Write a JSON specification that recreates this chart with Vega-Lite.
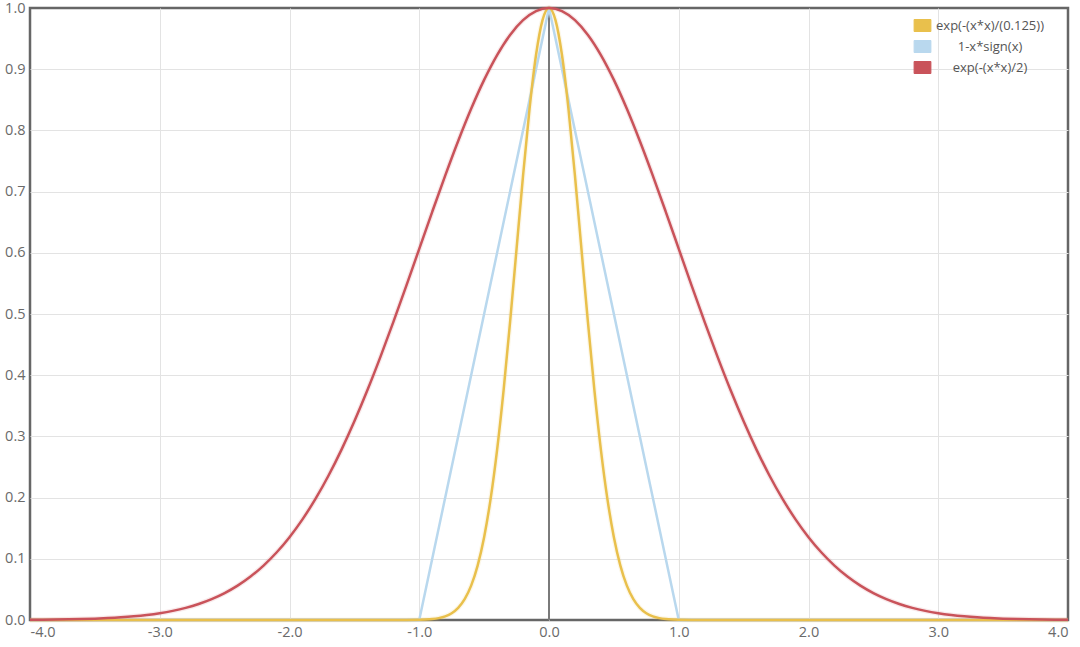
{
  "$schema": "https://vega.github.io/schema/vega-lite/v6.json",
  "width": 1038,
  "height": 612,
  "autosize": {"type": "none"},
  "padding": {"left": 30, "top": 8, "right": 12, "bottom": 27},
  "background": "white",
  "config": {
    "view": {"stroke": "#666666", "strokeWidth": 2.5},
    "font": "Open Sans",
    "axis": {
      "grid": true, "gridWidth": 1,
      "domain": false, "ticks": false,
      "labelColor": "#6a6a6a", "labelFontSize": 14.5, "labelFont": "Open Sans",
      "title": null
    }
  },
  "datasets": {
    "curves": [
      {"s": "exp(-(x*x)/(0.125))", "x": -4.0, "y": 0},
      {"s": "exp(-(x*x)/(0.125))", "x": -1.2, "y": 0.00001},
      {"s": "exp(-(x*x)/(0.125))", "x": -1.1, "y": 0.00006},
      {"s": "exp(-(x*x)/(0.125))", "x": -1.0, "y": 0.00034},
      {"s": "exp(-(x*x)/(0.125))", "x": -0.95, "y": 0.00073},
      {"s": "exp(-(x*x)/(0.125))", "x": -0.9, "y": 0.00153},
      {"s": "exp(-(x*x)/(0.125))", "x": -0.85, "y": 0.00309},
      {"s": "exp(-(x*x)/(0.125))", "x": -0.8, "y": 0.00598},
      {"s": "exp(-(x*x)/(0.125))", "x": -0.75, "y": 0.01111},
      {"s": "exp(-(x*x)/(0.125))", "x": -0.7, "y": 0.01984},
      {"s": "exp(-(x*x)/(0.125))", "x": -0.65, "y": 0.03405},
      {"s": "exp(-(x*x)/(0.125))", "x": -0.6, "y": 0.05613},
      {"s": "exp(-(x*x)/(0.125))", "x": -0.55, "y": 0.08892},
      {"s": "exp(-(x*x)/(0.125))", "x": -0.5, "y": 0.13534},
      {"s": "exp(-(x*x)/(0.125))", "x": -0.45, "y": 0.1979},
      {"s": "exp(-(x*x)/(0.125))", "x": -0.4, "y": 0.27804},
      {"s": "exp(-(x*x)/(0.125))", "x": -0.35, "y": 0.37531},
      {"s": "exp(-(x*x)/(0.125))", "x": -0.3, "y": 0.48675},
      {"s": "exp(-(x*x)/(0.125))", "x": -0.25, "y": 0.60653},
      {"s": "exp(-(x*x)/(0.125))", "x": -0.2, "y": 0.72615},
      {"s": "exp(-(x*x)/(0.125))", "x": -0.15, "y": 0.83527},
      {"s": "exp(-(x*x)/(0.125))", "x": -0.1, "y": 0.92312},
      {"s": "exp(-(x*x)/(0.125))", "x": -0.05, "y": 0.9802},
      {"s": "exp(-(x*x)/(0.125))", "x": 0.0, "y": 1.0},
      {"s": "exp(-(x*x)/(0.125))", "x": 0.05, "y": 0.9802},
      {"s": "exp(-(x*x)/(0.125))", "x": 0.1, "y": 0.92312},
      {"s": "exp(-(x*x)/(0.125))", "x": 0.15, "y": 0.83527},
      {"s": "exp(-(x*x)/(0.125))", "x": 0.2, "y": 0.72615},
      {"s": "exp(-(x*x)/(0.125))", "x": 0.25, "y": 0.60653},
      {"s": "exp(-(x*x)/(0.125))", "x": 0.3, "y": 0.48675},
      {"s": "exp(-(x*x)/(0.125))", "x": 0.35, "y": 0.37531},
      {"s": "exp(-(x*x)/(0.125))", "x": 0.4, "y": 0.27804},
      {"s": "exp(-(x*x)/(0.125))", "x": 0.45, "y": 0.1979},
      {"s": "exp(-(x*x)/(0.125))", "x": 0.5, "y": 0.13534},
      {"s": "exp(-(x*x)/(0.125))", "x": 0.55, "y": 0.08892},
      {"s": "exp(-(x*x)/(0.125))", "x": 0.6, "y": 0.05613},
      {"s": "exp(-(x*x)/(0.125))", "x": 0.65, "y": 0.03405},
      {"s": "exp(-(x*x)/(0.125))", "x": 0.7, "y": 0.01984},
      {"s": "exp(-(x*x)/(0.125))", "x": 0.75, "y": 0.01111},
      {"s": "exp(-(x*x)/(0.125))", "x": 0.8, "y": 0.00598},
      {"s": "exp(-(x*x)/(0.125))", "x": 0.85, "y": 0.00309},
      {"s": "exp(-(x*x)/(0.125))", "x": 0.9, "y": 0.00153},
      {"s": "exp(-(x*x)/(0.125))", "x": 0.95, "y": 0.00073},
      {"s": "exp(-(x*x)/(0.125))", "x": 1.0, "y": 0.00034},
      {"s": "exp(-(x*x)/(0.125))", "x": 1.1, "y": 0.00006},
      {"s": "exp(-(x*x)/(0.125))", "x": 1.2, "y": 0.00001},
      {"s": "exp(-(x*x)/(0.125))", "x": 4.0, "y": 0},
      {"s": "1-x*sign(x)", "x": -4.0, "y": 0},
      {"s": "1-x*sign(x)", "x": -1.0, "y": 0},
      {"s": "1-x*sign(x)", "x": 0.0, "y": 1},
      {"s": "1-x*sign(x)", "x": 1.0, "y": 0},
      {"s": "1-x*sign(x)", "x": 4.0, "y": 0},
      {"s": "exp(-(x*x)/2)", "x": -4.0, "y": 0.00034},
      {"s": "exp(-(x*x)/2)", "x": -3.9, "y": 0.0005},
      {"s": "exp(-(x*x)/2)", "x": -3.8, "y": 0.00073},
      {"s": "exp(-(x*x)/2)", "x": -3.7, "y": 0.00106},
      {"s": "exp(-(x*x)/2)", "x": -3.6, "y": 0.00153},
      {"s": "exp(-(x*x)/2)", "x": -3.5, "y": 0.00219},
      {"s": "exp(-(x*x)/2)", "x": -3.4, "y": 0.00309},
      {"s": "exp(-(x*x)/2)", "x": -3.3, "y": 0.00432},
      {"s": "exp(-(x*x)/2)", "x": -3.2, "y": 0.00598},
      {"s": "exp(-(x*x)/2)", "x": -3.1, "y": 0.00819},
      {"s": "exp(-(x*x)/2)", "x": -3.0, "y": 0.01111},
      {"s": "exp(-(x*x)/2)", "x": -2.9, "y": 0.01492},
      {"s": "exp(-(x*x)/2)", "x": -2.8, "y": 0.01984},
      {"s": "exp(-(x*x)/2)", "x": -2.7, "y": 0.02612},
      {"s": "exp(-(x*x)/2)", "x": -2.6, "y": 0.03405},
      {"s": "exp(-(x*x)/2)", "x": -2.5, "y": 0.04394},
      {"s": "exp(-(x*x)/2)", "x": -2.4, "y": 0.05613},
      {"s": "exp(-(x*x)/2)", "x": -2.3, "y": 0.071},
      {"s": "exp(-(x*x)/2)", "x": -2.2, "y": 0.08892},
      {"s": "exp(-(x*x)/2)", "x": -2.1, "y": 0.11025},
      {"s": "exp(-(x*x)/2)", "x": -2.0, "y": 0.13534},
      {"s": "exp(-(x*x)/2)", "x": -1.9, "y": 0.16447},
      {"s": "exp(-(x*x)/2)", "x": -1.8, "y": 0.1979},
      {"s": "exp(-(x*x)/2)", "x": -1.7, "y": 0.23575},
      {"s": "exp(-(x*x)/2)", "x": -1.6, "y": 0.27804},
      {"s": "exp(-(x*x)/2)", "x": -1.5, "y": 0.32465},
      {"s": "exp(-(x*x)/2)", "x": -1.4, "y": 0.37531},
      {"s": "exp(-(x*x)/2)", "x": -1.3, "y": 0.42956},
      {"s": "exp(-(x*x)/2)", "x": -1.2, "y": 0.48675},
      {"s": "exp(-(x*x)/2)", "x": -1.1, "y": 0.54607},
      {"s": "exp(-(x*x)/2)", "x": -1.0, "y": 0.60653},
      {"s": "exp(-(x*x)/2)", "x": -0.9, "y": 0.66698},
      {"s": "exp(-(x*x)/2)", "x": -0.8, "y": 0.72615},
      {"s": "exp(-(x*x)/2)", "x": -0.7, "y": 0.7827},
      {"s": "exp(-(x*x)/2)", "x": -0.6, "y": 0.83527},
      {"s": "exp(-(x*x)/2)", "x": -0.5, "y": 0.8825},
      {"s": "exp(-(x*x)/2)", "x": -0.4, "y": 0.92312},
      {"s": "exp(-(x*x)/2)", "x": -0.3, "y": 0.956},
      {"s": "exp(-(x*x)/2)", "x": -0.2, "y": 0.9802},
      {"s": "exp(-(x*x)/2)", "x": -0.1, "y": 0.99501},
      {"s": "exp(-(x*x)/2)", "x": 0.0, "y": 1.0},
      {"s": "exp(-(x*x)/2)", "x": 0.1, "y": 0.99501},
      {"s": "exp(-(x*x)/2)", "x": 0.2, "y": 0.9802},
      {"s": "exp(-(x*x)/2)", "x": 0.3, "y": 0.956},
      {"s": "exp(-(x*x)/2)", "x": 0.4, "y": 0.92312},
      {"s": "exp(-(x*x)/2)", "x": 0.5, "y": 0.8825},
      {"s": "exp(-(x*x)/2)", "x": 0.6, "y": 0.83527},
      {"s": "exp(-(x*x)/2)", "x": 0.7, "y": 0.7827},
      {"s": "exp(-(x*x)/2)", "x": 0.8, "y": 0.72615},
      {"s": "exp(-(x*x)/2)", "x": 0.9, "y": 0.66698},
      {"s": "exp(-(x*x)/2)", "x": 1.0, "y": 0.60653},
      {"s": "exp(-(x*x)/2)", "x": 1.1, "y": 0.54607},
      {"s": "exp(-(x*x)/2)", "x": 1.2, "y": 0.48675},
      {"s": "exp(-(x*x)/2)", "x": 1.3, "y": 0.42956},
      {"s": "exp(-(x*x)/2)", "x": 1.4, "y": 0.37531},
      {"s": "exp(-(x*x)/2)", "x": 1.5, "y": 0.32465},
      {"s": "exp(-(x*x)/2)", "x": 1.6, "y": 0.27804},
      {"s": "exp(-(x*x)/2)", "x": 1.7, "y": 0.23575},
      {"s": "exp(-(x*x)/2)", "x": 1.8, "y": 0.1979},
      {"s": "exp(-(x*x)/2)", "x": 1.9, "y": 0.16447},
      {"s": "exp(-(x*x)/2)", "x": 2.0, "y": 0.13534},
      {"s": "exp(-(x*x)/2)", "x": 2.1, "y": 0.11025},
      {"s": "exp(-(x*x)/2)", "x": 2.2, "y": 0.08892},
      {"s": "exp(-(x*x)/2)", "x": 2.3, "y": 0.071},
      {"s": "exp(-(x*x)/2)", "x": 2.4, "y": 0.05613},
      {"s": "exp(-(x*x)/2)", "x": 2.5, "y": 0.04394},
      {"s": "exp(-(x*x)/2)", "x": 2.6, "y": 0.03405},
      {"s": "exp(-(x*x)/2)", "x": 2.7, "y": 0.02612},
      {"s": "exp(-(x*x)/2)", "x": 2.8, "y": 0.01984},
      {"s": "exp(-(x*x)/2)", "x": 2.9, "y": 0.01492},
      {"s": "exp(-(x*x)/2)", "x": 3.0, "y": 0.01111},
      {"s": "exp(-(x*x)/2)", "x": 3.1, "y": 0.00819},
      {"s": "exp(-(x*x)/2)", "x": 3.2, "y": 0.00598},
      {"s": "exp(-(x*x)/2)", "x": 3.3, "y": 0.00432},
      {"s": "exp(-(x*x)/2)", "x": 3.4, "y": 0.00309},
      {"s": "exp(-(x*x)/2)", "x": 3.5, "y": 0.00219},
      {"s": "exp(-(x*x)/2)", "x": 3.6, "y": 0.00153},
      {"s": "exp(-(x*x)/2)", "x": 3.7, "y": 0.00106},
      {"s": "exp(-(x*x)/2)", "x": 3.8, "y": 0.00073},
      {"s": "exp(-(x*x)/2)", "x": 3.9, "y": 0.0005},
      {"s": "exp(-(x*x)/2)", "x": 4.0, "y": 0.00034}
    ],
    "zero": [{"x": 0}]
  },
  "layer": [
    {
      "data": {"name": "zero"},
      "mark": {"type": "rule", "color": "#7a7a7a", "strokeWidth": 2},
      "encoding": {
        "x": {"field": "x", "type": "quantitative", "scale": {"domain": [-4, 4]}}
      }
    },
    {
      "data": {"name": "curves"},
      "transform": [{"filter": "datum.s !== '1-x*sign(x)'"}],
      "mark": {"type": "line", "strokeWidth": 5, "opacity": 0.12, "interpolate": "monotone"},
      "encoding": {
        "x": {"field": "x", "type": "quantitative"},
        "y": {"field": "y", "type": "quantitative"},
        "color": {"field": "s", "type": "nominal",
          "scale": {"domain": ["exp(-(x*x)/(0.125))", "1-x*sign(x)", "exp(-(x*x)/2)"], "range": ["#E9C04C", "#B9D8EE", "#C9535A"]}},
        "order": {"field": "x", "type": "quantitative"}
      }
    },
    {
      "data": {"name": "curves"},
      "transform": [{"filter": "datum.s === '1-x*sign(x)'"}],
      "mark": {"type": "line", "strokeWidth": 2.5, "interpolate": "linear"},
      "encoding": {
        "x": {"field": "x", "type": "quantitative"},
        "y": {"field": "y", "type": "quantitative"},
        "color": {"field": "s", "type": "nominal"},
        "order": {"field": "x", "type": "quantitative"}
      }
    },
    {
      "data": {"name": "curves"},
      "transform": [{"filter": "datum.s !== '1-x*sign(x)'"}],
      "mark": {"type": "line", "strokeWidth": 2.5, "interpolate": "monotone"},
      "encoding": {
        "x": {"field": "x", "type": "quantitative",
          "scale": {"domain": [-4, 4], "nice": false, "zero": false},
          "axis": {"values": [-4, -3, -2, -1, 0, 1, 2, 3, 4], "format": ".1f",
            "labelExpr": "replace(datum.label, '\u2212', '-')", "labelPadding": 5,
            "gridColor": {"condition": {"test": "abs(datum.value) > 3.5", "value": "transparent"}, "value": "#e3e3e3"}}},
        "y": {"field": "y", "type": "quantitative",
          "scale": {"domain": [0, 1], "nice": false},
          "axis": {"values": [0, 0.1, 0.2, 0.3, 0.4, 0.5, 0.6, 0.7, 0.8, 0.9, 1.0], "format": ".1f", "labelPadding": 5,
            "gridColor": {"condition": {"test": "datum.value < 0.05 || datum.value > 0.95", "value": "transparent"}, "value": "#e3e3e3"}}},
        "color": {"field": "s", "type": "nominal",
          "legend": {
            "title": null, "orient": "none", "legendX": 886, "legendY": 11,
            "direction": "vertical",
            "symbolType": "M-1.4,-1L1.4,-1L1.4,1L-1.4,1Z", "symbolSize": 144,
            "labelFontSize": 13, "labelColor": "#555555", "labelFont": "Open Sans",
            "labelAlign": "center", "labelOffset": 61, "rowPadding": 4,
            "encode": {
              "symbols": {
                "update": {
                  "fill": {"scale": "color", "field": "value"},
                  "stroke": {"value": "#dddddd"},
                  "strokeWidth": {"value": 1},
                  "opacity": {"value": 1}
                }
              }
            }
          }
        },
        "order": {"field": "x", "type": "quantitative"}
      }
    }
  ]
}
